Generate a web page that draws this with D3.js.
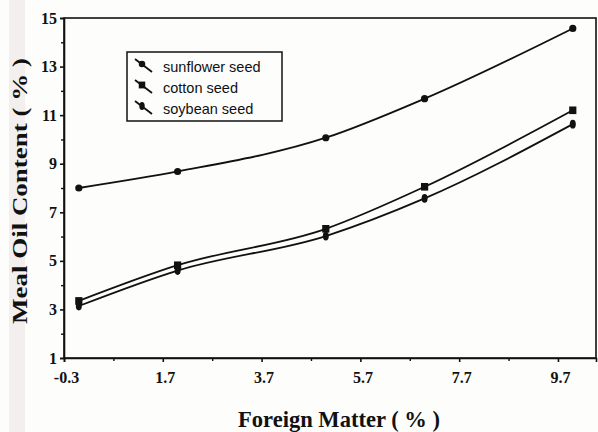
<!DOCTYPE html>
<html>
<head>
<meta charset="utf-8">
<script src="https://cdn.jsdelivr.net/npm/d3@7"></script>
<style>
  html, body { margin: 0; padding: 0; background: #fdfdfc; }
  svg { display: block; }
</style>
</head>
<body>
<svg id="chart" width="598" height="432"></svg>
<script>
// Foreign matter levels (%)
const foreignMatter = [0, 2, 5, 7, 10];

// Meal oil content (%) for each seed type
const sunflower = [8.0, 8.68, 10.07, 11.68, 14.57];
const cotton    = [3.35, 4.82, 6.32, 8.05, 11.2];
const soybean   = [3.14, 4.6, 6.02, 7.57, 10.63];

const seriesNames = ["sunflower seed", "cotton seed", "soybean seed"];
const seriesValues = [sunflower, cotton, soybean];
const markerKinds = ["circle", "square", "ellipse"];

// Axis ticks
const xTicks = [-0.3, 1.7, 3.7, 5.7, 7.7, 9.7];
const xMinorTicks = [0.7, 2.7, 4.7, 6.7, 8.7];
const yTicks = [1, 3, 5, 7, 9, 11, 13, 15];
const yMinorTicks = [2, 4, 6, 8, 10, 12, 14];

const svg = d3.select("#chart");
const W = 598, H = 432;
const m = { left: 64, right: 2, top: 18, bottom: 74 };

// faint vertical band along the left edge of the page
svg.append("rect").attr("x", 9).attr("y", 0).attr("width", 16).attr("height", H)
  .attr("fill", "#ece8e8").attr("opacity", 0.7);

const x = d3.scaleLinear().domain([-0.3, 10.47]).range([m.left, W - m.right]);
const y = d3.scaleLinear().domain([1, 15]).range([H - m.bottom, m.top]);

const serif = "'Liberation Serif', 'Times New Roman', serif";

// frame
svg.append("rect")
  .attr("x", x(-0.3)).attr("y", y(15))
  .attr("width", x(10.47) - x(-0.3)).attr("height", y(1) - y(15))
  .attr("fill", "none").attr("stroke", "#111").attr("stroke-width", 1.6);

// x axis
const xAxis = svg.append("g").attr("transform", `translate(0,${y(1)})`)
  .call(d3.axisBottom(x).tickValues(xTicks).tickFormat(d => d.toFixed(1)).tickSize(4).tickPadding(10));
xAxis.select(".domain").attr("stroke", "#111").attr("stroke-width", 1.6);
xAxis.selectAll(".tick line").attr("stroke", "#111").attr("stroke-width", 1.6);
xAxis.selectAll(".tick text").attr("font-family", serif).attr("font-weight", "bold")
  .attr("font-size", 16).attr("fill", "#111").attr("dx", 2);
svg.append("g").attr("transform", `translate(0,${y(1)})`)
  .call(d3.axisBottom(x).tickValues(xMinorTicks).tickFormat("").tickSize(3))
  .call(g => g.select(".domain").remove())
  .call(g => g.selectAll(".tick line").attr("stroke", "#111").attr("stroke-width", 1.4));

// y axis
const yAxis = svg.append("g").attr("transform", `translate(${x(-0.3)},0)`)
  .call(d3.axisLeft(y).tickValues(yTicks).tickFormat(d3.format("d")).tickSize(4).tickPadding(3));
yAxis.select(".domain").attr("stroke", "#111").attr("stroke-width", 1.6);
yAxis.selectAll(".tick line").attr("stroke", "#111").attr("stroke-width", 1.6);
yAxis.selectAll(".tick text").attr("font-family", serif).attr("font-weight", "bold")
  .attr("font-size", 16).attr("fill", "#111");
svg.append("g").attr("transform", `translate(${x(-0.3)},0)`)
  .call(d3.axisLeft(y).tickValues(yMinorTicks).tickFormat("").tickSize(3))
  .call(g => g.select(".domain").remove())
  .call(g => g.selectAll(".tick line").attr("stroke", "#111").attr("stroke-width", 1.4));

// axis titles
svg.append("text")
  .attr("x", 339).attr("y", 427)
  .attr("text-anchor", "middle")
  .attr("font-family", serif).attr("font-weight", "bold").attr("font-size", 24)
  .attr("textLength", 202).attr("lengthAdjust", "spacingAndGlyphs")
  .attr("fill", "#111")
  .text("Foreign Matter ( % )");

svg.append("text")
  .attr("transform", "translate(27,191) rotate(-90)")
  .attr("text-anchor", "middle")
  .attr("font-family", serif).attr("font-weight", "bold").attr("font-size", 21)
  .attr("textLength", 266).attr("lengthAdjust", "spacingAndGlyphs")
  .attr("fill", "#111")
  .text("Meal Oil Content ( % )");

// series lines
const line = d3.line()
  .x((d, i) => x(foreignMatter[i]))
  .y(d => y(d))
  .curve(d3.curveMonotoneX);

function drawMarker(g, kind, cx, cy, s) {
  if (kind === "circle") {
    g.append("circle").attr("cx", cx).attr("cy", cy).attr("r", 3.6 * s).attr("fill", "#111");
  } else if (kind === "square") {
    g.append("rect").attr("x", cx - 3.6 * s).attr("y", cy - 3.8 * s)
      .attr("width", 7.2 * s).attr("height", 7.6 * s).attr("fill", "#111");
  } else {
    g.append("ellipse").attr("cx", cx).attr("cy", cy).attr("rx", 3 * s).attr("ry", 4.4 * s).attr("fill", "#111");
  }
}

seriesValues.forEach((vals, k) => {
  svg.append("path").datum(vals)
    .attr("d", line)
    .attr("fill", "none")
    .attr("stroke", "#111")
    .attr("stroke-width", 1.8);
});
seriesValues.forEach((vals, k) => {
  const g = svg.append("g");
  vals.forEach((v, i) => drawMarker(g, markerKinds[k], x(foreignMatter[i]), y(v), 1));
});

// legend
const lg = svg.append("g");
lg.append("rect").attr("x", 127).attr("y", 52).attr("width", 155).attr("height", 69)
  .attr("fill", "#fdfdfc").attr("stroke", "#111").attr("stroke-width", 1.5);
seriesNames.forEach((name, k) => {
  const cy = 67 + k * 21;
  lg.append("line").attr("x1", 135).attr("y1", cy - 8).attr("x2", 152).attr("y2", cy + 5)
    .attr("stroke", "#111").attr("stroke-width", 1.8);
  drawMarker(lg, markerKinds[k], 142, cy - 3, 0.9);
  lg.append("text").attr("x", 163).attr("y", cy + 5)
    .attr("font-family", "'Liberation Sans', Arial, sans-serif").attr("font-size", 14.5)
    .attr("fill", "#111")
    .text(name);
});
</script>
</body>
</html>
